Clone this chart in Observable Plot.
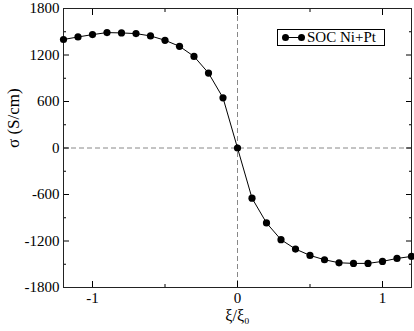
<!DOCTYPE html>
<html><head><meta charset="utf-8">
<script src="https://cdn.jsdelivr.net/npm/d3@7"></script>
<script src="https://cdn.jsdelivr.net/npm/@observablehq/plot@0.6"></script>
<style>
body{margin:0;background:#fff}
#wrap{position:relative;width:414px;height:331px;font-family:'Liberation Serif','DejaVu Serif',serif}
#wrap svg text{font-family:'Liberation Serif','DejaVu Serif',serif}
#legend{position:absolute;left:277px;top:29px;width:106px;height:15px;border:1px solid #000;background:#fff;font-size:15px;line-height:15px}
#legend svg{position:absolute;left:4px;top:0}
#legend span{position:absolute;left:29px;top:0;white-space:nowrap}
</style>
</head><body><div id="wrap"></div>
<script>
const xi = [-1.2,-1.1,-1.0,-0.9,-0.8,-0.7,-0.6,-0.5,-0.4,-0.3,-0.2,-0.1,0,0.1,0.2,0.3,0.4,0.5,0.6,0.7,0.8,0.9,1.0,1.1,1.2];
const sigma = [1400,1433,1463,1489,1485,1476,1446,1390,1312,1182,967,647,0,-647,-967,-1183,-1304,-1386,-1442,-1481,-1489,-1489,-1463,-1425,-1399];
const seriesName = "SOC Ni+Pt";
const xTicks = [-1, 0, 1];
const xMinor = [-0.5, 0.5];
const yTicks = [-1800, -1200, -600, 0, 600, 1200, 1800];
const yMinor = [-1500, -900, -300, 300, 900, 1500];
const xLabel = "ξ/ξ₀";
const yLabel = "σ (S/cm)";

const data = xi.map((x, i) => ({x, y: sigma[i]}));
const fmt = d => String(d);

const chart = Plot.plot({
  width: 414, height: 331,
  marginLeft: 63, marginRight: 3, marginTop: 8, marginBottom: 44,
  style: {fontFamily: "'Liberation Serif','DejaVu Serif',serif", fontSize: "15px", color: "#000", background: "#fff"},
  x: {domain: [-1.2, 1.2]},
  y: {domain: [-1800, 1800]},
  marks: [
    Plot.ruleY([0], {stroke: "#888", strokeDasharray: "5,3"}),
    Plot.ruleX([0], {stroke: "#888", strokeDasharray: "5,3"}),
    Plot.axisX(xTicks, {anchor: "bottom", tickSize: 0, tickPadding: 5, tickFormat: fmt, label: null, fontSize: 15}),
    Plot.axisY(yTicks, {anchor: "left", tickSize: 0, tickPadding: 4, tickFormat: fmt, label: null, fontSize: 15}),
    Plot.axisX(xTicks, {anchor: "bottom", tickSize: -6, tickFormat: () => "", label: null}),
    Plot.axisX(xTicks, {anchor: "top", tickSize: -6, tickFormat: () => "", label: null}),
    Plot.axisX(xMinor, {anchor: "bottom", tickSize: -3, tickFormat: () => "", label: null}),
    Plot.axisX(xMinor, {anchor: "top", tickSize: -3, tickFormat: () => "", label: null}),
    Plot.axisY(yTicks, {anchor: "left", tickSize: -6, tickFormat: () => "", label: null}),
    Plot.axisY(yTicks, {anchor: "right", tickSize: -6, tickFormat: () => "", label: null}),
    Plot.axisY(yMinor, {anchor: "left", tickSize: -3, tickFormat: () => "", label: null}),
    Plot.axisY(yMinor, {anchor: "right", tickSize: -3, tickFormat: () => "", label: null}),
    Plot.frame({stroke: "#222"}),
    Plot.line(data, {x: "x", y: "y", stroke: "#000", strokeWidth: 1}),
    Plot.dot(data, {x: "x", y: "y", r: 3.6, fill: "#000"}),
    Plot.text([xLabel], {text: d => d, frameAnchor: "bottom", dy: 33, fontSize: 16}),
    Plot.text([yLabel], {text: d => d, frameAnchor: "left", rotate: -90, dx: -50, fontSize: 17})
  ]
});
const wrap = document.getElementById("wrap");
wrap.appendChild(chart);
const lg = document.createElement("div");
lg.id = "legend";
lg.innerHTML = `<svg width="24" height="15"><line x1="3" x2="20" y1="7.5" y2="7.5" stroke="#000"/><circle cx="3.5" cy="7.5" r="3.5" fill="#000"/><circle cx="19.5" cy="7.5" r="3.5" fill="#000"/></svg><span></span>`;
lg.querySelector("span").textContent = seriesName;
wrap.appendChild(lg);
</script>
</body></html>
